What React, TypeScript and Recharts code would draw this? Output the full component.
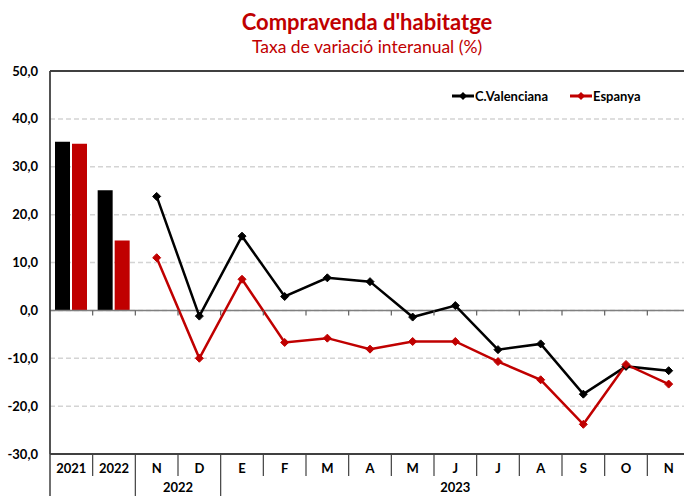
import React from 'react';
import { ComposedChart, Bar, Line, XAxis, YAxis, CartesianGrid, ReferenceLine } from 'recharts';

const categories = ['2021', '2022', 'N', 'D', 'E', 'F', 'M', 'A', 'M', 'J', 'J', 'A', 'S', 'O', 'N'];
const cvAnnual = [35.2, 25.1];
const espAnnual = [34.8, 14.6];
const cvMonthly = [23.8, -1.2, 15.5, 2.9, 6.8, 6.0, -1.4, 1.0, -8.2, -7.0, -17.5, -11.7, -12.6];
const espMonthly = [11.0, -10.0, 6.5, -6.7, -5.8, -8.1, -6.5, -6.5, -10.7, -14.5, -23.8, -11.3, -15.4];
const yTicks = [-30, -20, -10, 0, 10, 20, 30, 40, 50];
const groupLabels = [
  { text: '2022', from: 2, to: 4 },
  { text: '2023', from: 4, to: 15 },
];

const nAnnual = cvAnnual.length;
const data = categories.map((label, i) => ({
  label,
  cvBar: i < nAnnual ? cvAnnual[i] : null,
  espBar: i < nAnnual ? espAnnual[i] : null,
  cvLine: i >= nAnnual ? cvMonthly[i - nAnnual] : null,
  espLine: i >= nAnnual ? espMonthly[i - nAnnual] : null,
}));

const W = 692;
const H = 496;
const M = { top: 71, right: 2, bottom: 0, left: 0 };
const Y_W = 50;
const X_H = 42;
const plotLeft = M.left + Y_W;
const plotRight = W - M.right;
const plotTop = M.top;
const plotBottom = H - M.bottom - X_H;
const bw = (plotRight - plotLeft) / categories.length;
const yMin = -30;
const yMax = 50;
const zeroY = plotTop + ((yMax - 0) / (yMax - yMin)) * (plotBottom - plotTop);

const BLACK = '#000000';
const RED = '#C00000';
const FONT = 'Lato, "Open Sans", sans-serif';
const AXIS = '#404040';

const boundariesFull = new Set(groupLabels.map((g) => g.from));

const XTick = (props: any) => {
  const { x, y, payload, index } = props;
  const i = typeof index === 'number' ? index : payload.index;
  const left = x - bw / 2;
  const items: any[] = [];
  items.push(
    <text key="t" x={x} y={y + 19} textAnchor="middle" fontFamily={FONT} fontWeight={700} fontSize={13} fill="#000">
      {payload.value}
    </text>
  );
  if (i === 0) {
    items.push(<line key="l0" x1={left} x2={left} y1={y} y2={H} stroke={AXIS} strokeWidth={1.5} />);
  } else {
    const full = boundariesFull.has(i);
    items.push(<line key="s" x1={left} x2={left} y1={y} y2={full ? H : y + 22} stroke={AXIS} strokeWidth={1.2} />);
    items.push(<line key="z" x1={left} x2={left} y1={zeroY} y2={zeroY + 5} stroke="#606060" strokeWidth={1.2} />);
  }
  groupLabels.forEach((g, gi) => {
    if (g.from === i) {
      const cx = left + ((g.to - g.from) * bw) / 2;
      items.push(
        <text key={'g' + gi} x={cx} y={y + 38} textAnchor="middle" fontFamily={FONT} fontWeight={700} fontSize={13} fill="#000">
          {g.text}
        </text>
      );
    }
  });
  return <g>{items}</g>;
};

const makeDot = (color: string) => (props: any) => {
  const { cx, cy, value, index } = props;
  if (value == null || cy == null || cx == null) return <g key={'d' + index} />;
  const s = 4;
  return (
    <polygon
      key={'d' + index}
      points={`${cx},${cy - s} ${cx + s},${cy} ${cx},${cy + s} ${cx - s},${cy}`}
      fill={color}
      stroke={color}
    />
  );
};

const LegendItem = ({ color, text }: { color: string; text: string }) => (
  <div style={{ display: 'flex', alignItems: 'center', marginRight: 22 }}>
    <svg width={22} height={10} style={{ display: 'block' }}>
      <line x1={0} x2={22} y1={5} y2={5} stroke={color} strokeWidth={3} />
      <polygon points="11,1 15,5 11,9 7,5" fill={color} />
    </svg>
    <span style={{ fontFamily: FONT, fontWeight: 700, fontSize: 13, color: '#000', marginLeft: 1 }}>{text}</span>
  </div>
);

export default function App() {
  return (
    <div style={{ position: 'absolute', left: 0, top: 0, width: 684, height: 496, overflow: 'hidden', background: '#fff' }}>
      <div style={{ position: 'absolute', left: 0, top: 0, width: W, height: H }}>
        <ComposedChart width={W} height={H} data={data} margin={M} barSize={15} barGap={2}>
          <CartesianGrid vertical={false} stroke="#d4d4d4" strokeWidth={1.5} strokeDasharray="5 3" />
          <XAxis
            dataKey="label"
            interval={0}
            height={X_H}
            tickLine={false}
            tickSize={0}
            tickMargin={0}
            axisLine={{ stroke: AXIS, strokeWidth: 1.8 }}
            tick={<XTick />}
          />
          <YAxis
            width={Y_W}
            domain={[yMin, yMax]}
            ticks={yTicks}
            interval={0}
            tickLine={false}
            tickSize={0}
            tickMargin={12}
            axisLine={{ stroke: AXIS, strokeWidth: 1.8 }}
            tickFormatter={(v: number) => v.toFixed(1).replace('.', ',')}
            tick={{ fontFamily: FONT, fontWeight: 700, fontSize: 13, fill: '#000' }}
          />
          <ReferenceLine y={yMax} stroke={AXIS} strokeWidth={1.8} />
          <ReferenceLine y={0} stroke="#808080" strokeWidth={1.5} />
          <Bar dataKey="cvBar" fill={BLACK} isAnimationActive={false} />
          <Bar dataKey="espBar" fill={RED} isAnimationActive={false} />
          <Line dataKey="cvLine" stroke={BLACK} strokeWidth={2.5} dot={makeDot(BLACK)} activeDot={false} isAnimationActive={false} />
          <Line dataKey="espLine" stroke={RED} strokeWidth={2.5} dot={makeDot(RED)} activeDot={false} isAnimationActive={false} />
        </ComposedChart>
      </div>
      <div style={{ position: 'absolute', left: 0, width: 734, top: 8, textAlign: 'center', fontFamily: FONT, fontWeight: 700, fontSize: 22, color: RED, lineHeight: '28px' }}>
        Compravenda d'habitatge
      </div>
      <div style={{ position: 'absolute', left: 0, width: 734, top: 36, textAlign: 'center', fontFamily: FONT, fontSize: 17.5, color: RED, lineHeight: '22px' }}>
        Taxa de variació interanual (%)
      </div>
      <div style={{ position: 'absolute', left: 452, top: 88, display: 'flex' }}>
        <LegendItem color={BLACK} text="C.Valenciana" />
        <LegendItem color={RED} text="Espanya" />
      </div>
    </div>
  );
}
